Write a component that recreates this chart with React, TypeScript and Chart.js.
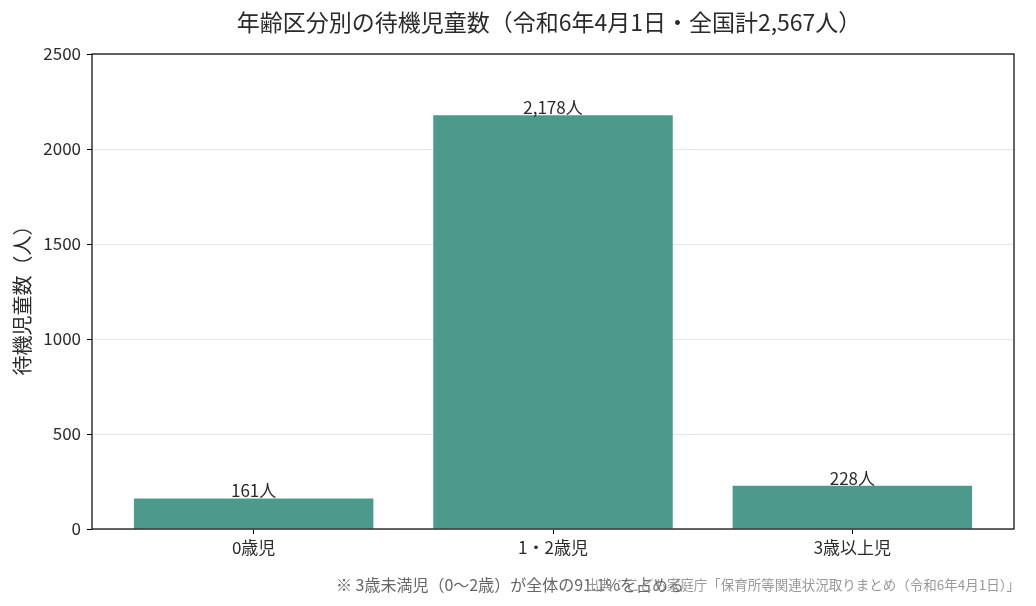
import { useEffect, useRef } from "react";
import { Chart, registerables } from "chart.js";

Chart.register(...registerables);

const FONT = "'Noto Sans CJK JP', 'Noto Sans', sans-serif";

// Data (令和6年4月1日時点)
const categories = ["0歳児", "1・2歳児", "3歳以上児"];
const waitingChildren = [161, 2178, 228];
const yTicks = [0, 500, 1000, 1500, 2000, 2500];

const title = "年齢区分別の待機児童数（令和6年4月1日・全国計2,567人）";
const yTitle = "待機児童数（人）";
const note = "※ 3歳未満児（0〜2歳）が全体の91.1%を占める";
const source = "出典：こども家庭庁「保育所等関連状況取りまとめ（令和6年4月1日）」";

const BAR_COLOR = "#4c9a8c";
const TEXT = "#2a2a2a";

// frame, title, labels and footer texts
const decorations = {
  id: "decorations",
  afterDatasetsDraw(chart: Chart) {
    const { ctx, chartArea } = chart;
    const { left, top, right, bottom } = chartArea;
    ctx.save();

    // box around the plot
    ctx.strokeStyle = "#000";
    ctx.lineWidth = 1.2;
    ctx.strokeRect(left, top, right - left, bottom - top);

    // value labels above bars
    const meta = chart.getDatasetMeta(0);
    ctx.fillStyle = TEXT;
    ctx.font = `17px ${FONT}`;
    ctx.textAlign = "center";
    ctx.textBaseline = "bottom";
    meta.data.forEach((bar: any, i: number) => {
      ctx.fillText(`${waitingChildren[i].toLocaleString("en-US")}人`, bar.x, bar.y + 1);
    });

    // title
    ctx.font = `23px ${FONT}`;
    ctx.textBaseline = "middle";
    ctx.fillText(title, (left + right) / 2 - 4, 22);

    // y axis title
    ctx.save();
    ctx.translate(22, (top + bottom) / 2 + 4);
    ctx.rotate(-Math.PI / 2);
    ctx.font = `20px ${FONT}`;
    ctx.fillText(yTitle, 0, 0);
    ctx.restore();

    // footer
    ctx.textBaseline = "alphabetic";
    ctx.textAlign = "left";
    ctx.fillStyle = "#666";
    ctx.font = `16px ${FONT}`;
    ctx.fillText(note, 336, 591);
    ctx.textAlign = "right";
    ctx.fillStyle = "#999";
    ctx.font = `13.5px ${FONT}`;
    ctx.fillText(source, 1020, 590);

    ctx.restore();
  },
};

export default function App() {
  const chartRef = useRef<HTMLCanvasElement>(null);
  const chartInstance = useRef<Chart | null>(null);

  useEffect(() => {
    document.body.style.margin = "0";
    if (!chartRef.current) return;
    if (chartInstance.current) chartInstance.current.destroy();
    const ctx = chartRef.current.getContext("2d");
    if (!ctx) return;

    chartInstance.current = new Chart(ctx, {
      type: "bar",
      data: {
        datasets: [
          {
            label: yTitle,
            data: waitingChildren.map((v, i) => ({ x: i, y: v })),
            backgroundColor: BAR_COLOR,
            borderWidth: 0,
            barPercentage: 0.8,
            categoryPercentage: 1,
          },
        ],
      },
      options: {
        responsive: false,
        animation: false,
        layout: { padding: { left: 0, top: 54, right: 22, bottom: 0 } },
        scales: {
          x: {
            type: "linear",
            min: -0.54,
            max: 2.54,
            offset: false,
            afterBuildTicks: (scale: any) => {
              scale.ticks = categories.map((_, i) => ({ value: i }));
            },
            afterFit: (scale: any) => {
              scale.height = 77;
            },
            border: { display: false },
            grid: {
              offset: false,
              drawOnChartArea: false,
              drawTicks: true,
              tickLength: 5,
              tickColor: "#000",
              tickWidth: 1,
            },
            ticks: {
              autoSkip: false,
              maxRotation: 0,
              padding: 3,
              color: TEXT,
              font: { family: FONT, size: 17 },
              callback: (v: any) => categories[Number(v)] ?? "",
            },
          },
          y: {
            min: 0,
            max: 2500,
            afterBuildTicks: (scale: any) => {
              scale.ticks = yTicks.map((v) => ({ value: v }));
            },
            afterFit: (scale: any) => {
              scale.width = 92;
            },
            border: { display: false },
            grid: {
              color: "#e6e6e6",
              lineWidth: 1,
              tickLength: 5,
              tickColor: "#000",
              tickWidth: 1,
            },
            ticks: {
              padding: 6,
              color: TEXT,
              font: { family: FONT, size: 17 },
              callback: (v: any) => String(v),
            },
          },
        },
        plugins: {
          legend: { display: false },
          title: { display: false },
          tooltip: { enabled: false },
        },
      },
      plugins: [decorations],
    });

    return () => {
      if (chartInstance.current) {
        chartInstance.current.destroy();
        chartInstance.current = null;
      }
    };
  }, []);

  return (
    <div style={{ width: 1036, height: 606, background: "#fff" }}>
      <canvas ref={chartRef} width={1036} height={606} />
    </div>
  );
}
